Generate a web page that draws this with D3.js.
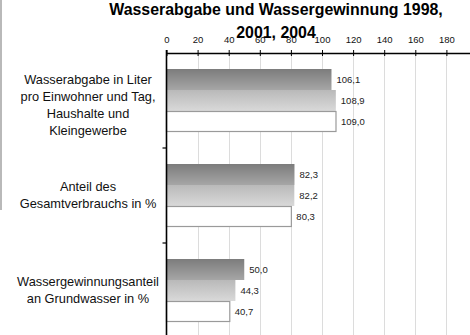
<!DOCTYPE html>
<html>
<head>
<meta charset="utf-8">
<script src="https://cdn.jsdelivr.net/npm/d3@7/dist/d3.min.js"></script>
<style>
  html, body { margin: 0; padding: 0; background: #fff; }
  svg { display: block; font-family: "Liberation Sans", Arial, sans-serif; }
</style>
</head>
<body>
<svg id="chart" width="470" height="335"></svg>
<script>
// Kategorien (mehrzeilig) und Werte je Jahr
const categories = [
  ["Wasserabgabe in Liter", "pro Einwohner und Tag,", "Haushalte und", "Kleingewerbe"],
  ["Anteil des", "Gesamtverbrauchs in %"],
  ["Wassergewinnungsanteil", "an Grundwasser in %"]
];
const years = ["1998", "2001", "2004"];
const values1998 = [106.1, 82.3, 50.0];
const values2001 = [108.9, 82.2, 44.3];
const values2004 = [109.0, 80.3, 40.7];
const xTicks = [0, 20, 40, 60, 80, 100, 120, 140, 160, 180, 200];
const titleLines = ["Wasserabgabe und Wassergewinnung 1998,", "2001, 2004"];

const series = [values1998, values2001, values2004];

const svg = d3.select("#chart");
const W = 470, H = 335;
const plotLeft = 166.5, plotTop = 53;

const x = d3.scaleLinear().domain([0, 200]).range([plotLeft, plotLeft + 311]);
const y = d3.scaleBand().domain(d3.range(categories.length)).range([plotTop, plotTop + 285]);
const inner = d3.scaleBand().domain(years).range([0, y.bandwidth()]).paddingOuter(16 / 21).paddingInner(0);

// Verlaufsfüllungen
const defs = svg.append("defs");
const grads = [
  { id: "g1998", from: "#7c7c7c", to: "#a6a6a6" },
  { id: "g2001", from: "#b9b9b9", to: "#d9d9d9" },
  { id: "g2004", from: "#ffffff", to: "#ffffff" }
];
grads.forEach(g => {
  const lg = defs.append("linearGradient").attr("id", g.id)
    .attr("x1", 0).attr("y1", 0).attr("x2", 0).attr("y2", 1);
  lg.append("stop").attr("offset", "0%").attr("stop-color", g.from);
  lg.append("stop").attr("offset", "100%").attr("stop-color", g.to);
});

// Rahmenlinie links
svg.append("line").attr("x1", 1).attr("x2", 1).attr("y1", 0).attr("y2", 210)
  .attr("stroke", "#8a8a8a").attr("stroke-width", 1.2);

// Gitterlinien
svg.append("g").selectAll("line").data(xTicks.slice(1)).join("line")
  .attr("x1", d => Math.round(x(d)) + 0.5).attr("x2", d => Math.round(x(d)) + 0.5)
  .attr("y1", plotTop).attr("y2", H)
  .attr("stroke", "#dcdcdc").attr("stroke-width", 1);

// Balken
const groups = svg.append("g").selectAll("g").data(categories).join("g")
  .attr("transform", (d, i) => `translate(0,${y(i)})`);

groups.each(function(cat, ci) {
  const g = d3.select(this);
  years.forEach((yr, si) => {
    const v = series[si][ci];
    const by = inner(yr);
    const bh = inner.bandwidth();
    if (si === 2) {
      g.append("rect").attr("x", x(0)).attr("y", by + 0.5)
        .attr("width", x(v) - x(0)).attr("height", bh - 1)
        .attr("fill", "#fff").attr("stroke", "#9a9a9a").attr("stroke-width", 1.2);
    } else {
      g.append("rect").attr("x", x(0)).attr("y", by)
        .attr("width", x(v) - x(0)).attr("height", bh)
        .attr("fill", `url(#${grads[si].id})`);
    }
    g.append("text").attr("x", x(v) + 5).attr("y", by + bh / 2)
      .attr("dy", "0.35em").attr("font-size", 9.5).attr("fill", "#222")
      .text(d3.format(".1f")(v).replace(".", ","));
  });
});

// Obere Achse
const xAxis = d3.axisTop(x).tickValues(xTicks).tickSize(3).tickSizeOuter(0).tickFormat(d3.format("d"));
const ax = svg.append("g").attr("transform", `translate(0,${plotTop})`).call(xAxis);
ax.select(".domain").attr("stroke", "#000").attr("stroke-width", 1.4);
ax.selectAll(".tick line").attr("stroke", "#000").attr("y2", -3).attr("y1", 3);
ax.selectAll(".tick text").attr("font-size", 9.5).attr("fill", "#111").attr("y", -10)
  .attr("font-family", "Liberation Sans, Arial, sans-serif");

// Linke Achse mit Kategorie-Teilstrichen
svg.append("line").attr("x1", plotLeft).attr("x2", plotLeft).attr("y1", plotTop - 3).attr("y2", H)
  .attr("stroke", "#000").attr("stroke-width", 1.6);
svg.append("g").selectAll("line").data(d3.range(1, categories.length)).join("line")
  .attr("x1", plotLeft - 4).attr("x2", plotLeft).attr("y1", d => y(d)).attr("y2", d => y(d))
  .attr("stroke", "#000").attr("stroke-width", 1.2);

// Kategorie-Beschriftungen (Blöcke mit vielen Zeilen sitzen etwas tiefer)
const lh = 17;
svg.append("g").selectAll("text").data(categories).join("text")
  .attr("text-anchor", "middle").attr("font-size", 12.8).attr("fill", "#111")
  .each(function(lines, i) {
    const shift = lines.length > 2 ? 5 : 0;
    const cy = y(i) + y.bandwidth() / 2 + shift;
    const t = d3.select(this);
    lines.forEach((ln, k) => {
      t.append("tspan").attr("x", 88)
        .attr("y", cy + (k - (lines.length - 1) / 2) * lh)
        .attr("dy", "0.35em").text(ln);
    });
  });

// Titel
svg.append("g").selectAll("text").data(titleLines).join("text")
  .attr("x", 276).attr("y", (d, i) => 15 + i * 23)
  .attr("text-anchor", "middle").attr("font-size", 15.9).attr("font-weight", "bold")
  .attr("fill", "#000").text(d => d);
</script>
</body>
</html>
